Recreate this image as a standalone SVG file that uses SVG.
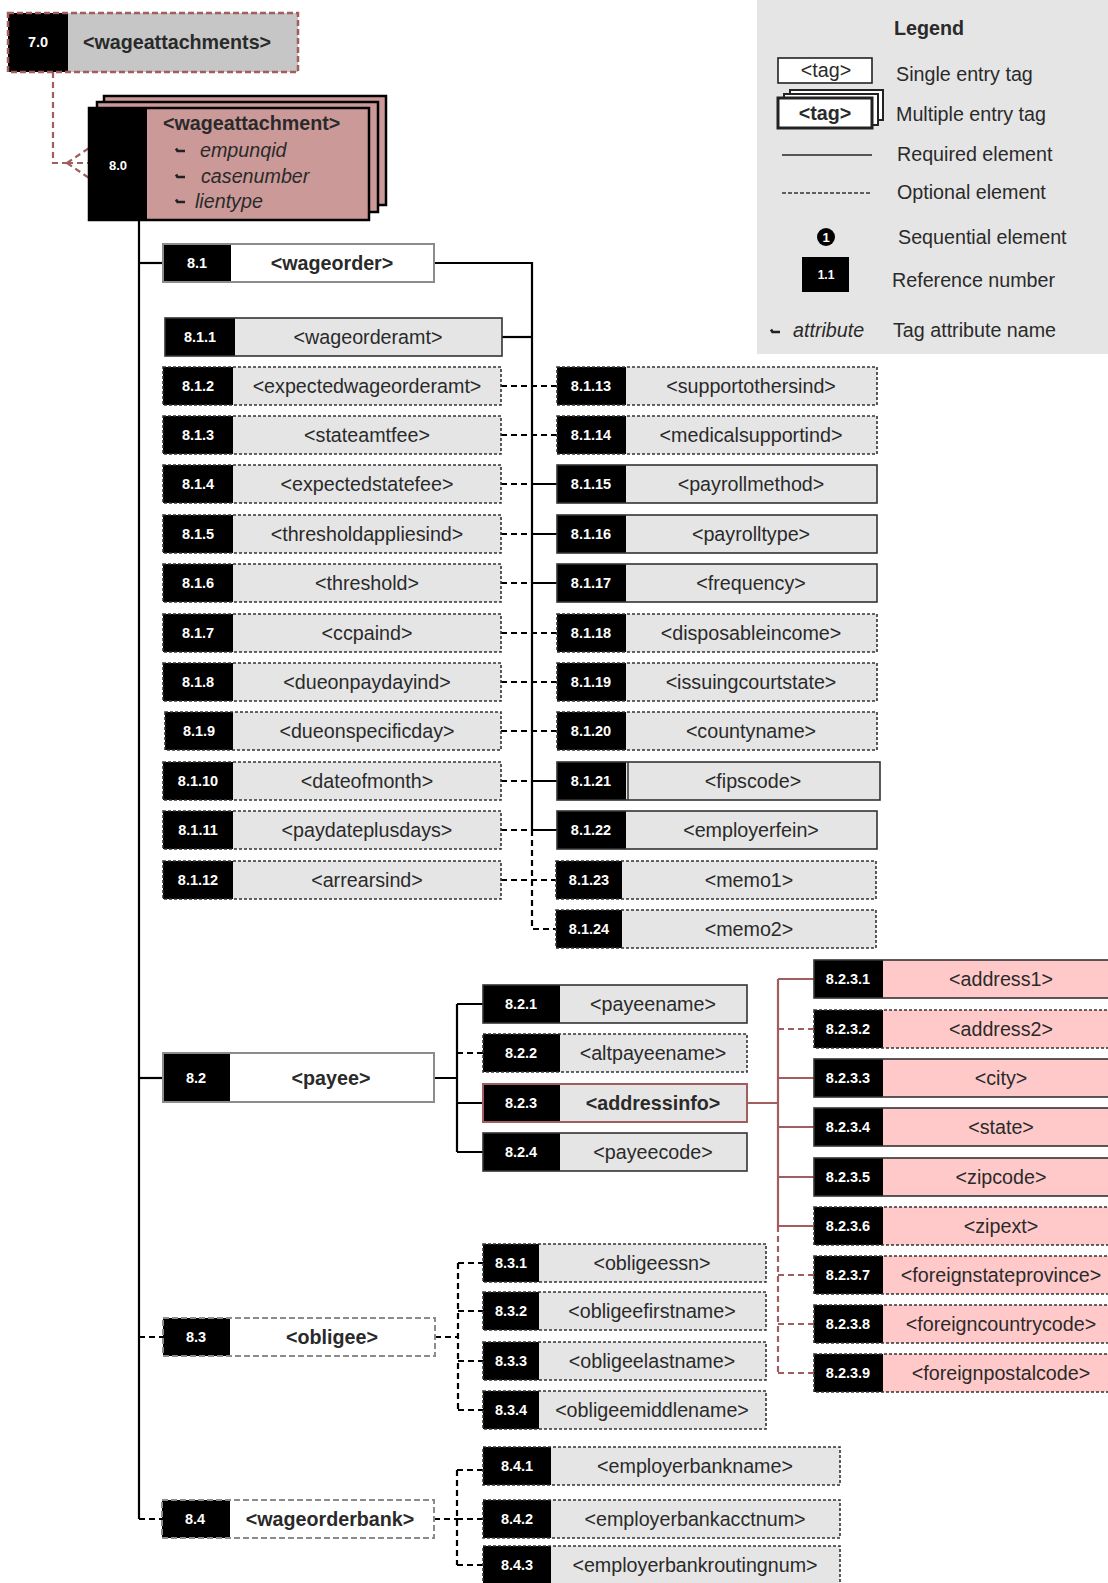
<svg xmlns="http://www.w3.org/2000/svg" xmlns:xlink="http://www.w3.org/1999/xlink" width="1108" height="1583" viewBox="0 0 1108 1583">
<style>
.lbl{font-family:"Liberation Sans",Arial,sans-serif;font-size:19.7px;fill:#2a2a2a;text-anchor:middle}
.lg{font-family:"Liberation Sans",Arial,sans-serif;font-size:19.7px;fill:#2a2a2a}
.b{font-weight:bold}
.it{font-style:italic}
.num{font-family:"Liberation Sans",Arial,sans-serif;font-size:14.5px;font-weight:bold;fill:#fff;text-anchor:middle}
.fl{fill:#e5e5e5}
.pk{fill:#ffc9c9}
.wh{fill:#fff}
.ref{fill:#000}
.bs{fill:none;stroke:#333;stroke-width:1.6}
.bd{fill:none;stroke:#333;stroke-width:1.6;stroke-dasharray:3 2}
.gs{fill:none;stroke:#8c8c8c;stroke-width:2}
.gd{fill:none;stroke:#8c8c8c;stroke-width:2;stroke-dasharray:6 3}
.c{fill:none;stroke:#000;stroke-width:2.2}
.cd{fill:none;stroke:#000;stroke-width:2.2;stroke-dasharray:6 4}
.rs{fill:none;stroke:#a25e5e;stroke-width:2.2}
.rd{fill:none;stroke:#a25e5e;stroke-width:2.2;stroke-dasharray:6 4}
.hk{fill:none;stroke:#222;stroke-width:2.6;stroke-linecap:butt}
</style>
<defs>
<path id="hook" class="hk" d="M0,-2.5 L1.5,0 L9,0"/>
</defs>

<!-- Legend -->
<g id="legend">
<rect x="757" y="-1" width="352" height="355" fill="#e5e5e5"/>
<text class="lg b" x="894" y="35">Legend</text>
<rect x="778" y="58" width="94" height="25" fill="#fff" stroke="#222" stroke-width="1.6"/>
<text class="lbl" x="826" y="77">&lt;tag&gt;</text>
<text class="lg" x="896" y="81">Single entry tag</text>
<rect x="790" y="90" width="93" height="30" fill="#fff" stroke="#222" stroke-width="2"/>
<rect x="784" y="94" width="94" height="31" fill="#fff" stroke="#222" stroke-width="2"/>
<rect x="778" y="98" width="94" height="30" fill="#fff" stroke="#222" stroke-width="3"/>
<text class="lbl b" x="825" y="120">&lt;tag&gt;</text>
<text class="lg" x="896" y="121">Multiple entry tag</text>
<line x1="782" y1="155" x2="872" y2="155" stroke="#555" stroke-width="2"/>
<text class="lg" x="897" y="161">Required element</text>
<line x1="782" y1="193" x2="872" y2="193" stroke="#333" stroke-width="1.5" stroke-dasharray="4 2"/>
<text class="lg" x="897" y="199">Optional element</text>
<circle cx="826" cy="237" r="9" fill="#000"/>
<text class="num" x="826" y="242" style="font-size:13px">1</text>
<text class="lg" x="898" y="244">Sequential element</text>
<rect x="802" y="257" width="47" height="35" fill="#000"/>
<text class="num" x="826" y="279" style="font-size:12px">1.1</text>
<text class="lg" x="892" y="287">Reference number</text>
<use xlink:href="#hook" href="#hook" transform="translate(771,332)"/>
<text class="lg it" x="793" y="337">attribute</text>
<text class="lg" x="893" y="337">Tag attribute name</text>
</g>

<!-- Connectors -->
<g id="connectors">
<path class="rd" d="M53,72 V163 H67 M67,163 L89,148 M67,163 L89,163 M67,163 L89,178"/>
<path class="c" d="M139,220 V1519"/>
<path class="c" d="M139,263 H163"/>
<path class="c" d="M139,1078 H163"/>
<path class="cd" d="M139,1337 H163"/>
<path class="cd" d="M139,1519 H162"/>
<!-- 8.1 -->
<path class="c" d="M434,263 H532 V830"/>
<path class="cd" d="M532,830 V929 H557"/>
<path class="c" d="M502,337 H532"/>
<path class="cd" d="M501,386 H557 M501,435 H557 M501,484 H532 M501,534 H532 M501,583 H532 M501,633 H557 M501,682 H557 M501,731 H557 M501,781 H532 M501,830 H532 M501,880 H557"/>
<path class="c" d="M532,484 H557 M532,534 H557 M532,583 H557 M532,781 H557 M532,830 H557"/>
<!-- 8.2 -->
<path class="c" d="M434,1078 H457 M457,1004 V1152 M457,1004 H483 M457,1103 H483 M457,1152 H483"/>
<path class="cd" d="M457,1053 H483"/>
<path class="rs" d="M747,1103 H778 M778,979 V1226 M778,979 H814 M778,1078 H814 M778,1127 H814 M778,1177 H814 M778,1226 H814"/>
<path class="rd" d="M778,1226 V1373 M778,1029 H814 M778,1275 H814 M778,1324 H814 M778,1373 H814"/>
<!-- 8.3 -->
<path class="cd" d="M435,1337 H458 M458,1263 V1410 M458,1263 H483 M458,1311 H483 M458,1361 H483 M458,1410 H483"/>
<!-- 8.4 -->
<path class="cd" d="M434,1519 H457 M457,1470 V1565 M457,1470 H483 M457,1519 H483 M457,1565 H483"/>
</g>

<!-- 7.0 -->
<g id="n7-0">
<rect x="8" y="13" width="290" height="59" fill="#c6c6c6"/>
<rect x="8" y="13" width="60" height="59" fill="#000"/>
<rect x="8" y="13" width="290" height="59" fill="none" stroke="#a25e5e" stroke-width="2.5" stroke-dasharray="6 3"/>
<text class="num" x="38" y="47">7.0</text>
<text class="lbl b" x="177" y="49">&lt;wageattachments&gt;</text>
</g>

<!-- 8.0 -->
<g id="n8-0">
<rect x="104" y="96" width="282" height="109" fill="#cc9999" stroke="#000" stroke-width="2.5"/>
<rect x="97" y="102" width="281" height="110" fill="#cc9999" stroke="#000" stroke-width="2.5"/>
<rect x="89" y="108" width="280" height="112" fill="#cc9999" stroke="#000" stroke-width="2.5"/>
<rect x="89" y="108" width="58" height="112" fill="#000"/>
<text class="num" x="118" y="170" style="font-size:13px">8.0</text>
<text class="lg b" x="163" y="130">&lt;wageattachment&gt;</text>
<use xlink:href="#hook" href="#hook" transform="translate(176,151)"/>
<text class="lg it" x="200" y="157">empunqid</text>
<use xlink:href="#hook" href="#hook" transform="translate(176,177)"/>
<text class="lg it" x="201" y="183">casenumber</text>
<use xlink:href="#hook" href="#hook" transform="translate(176,202)"/>
<text class="lg it" x="195" y="208">lientype</text>
</g>

<!-- 8.1 -->
<g id="n8-1">
<rect class="wh" x="163" y="244" width="271" height="38"/>
<rect class="ref" x="163" y="244" width="68" height="38"/>
<rect class="gs" x="163" y="244" width="271" height="38"/>
<text class="num" x="197" y="268">8.1</text>
<text class="lbl b" x="332" y="270">&lt;wageorder&gt;</text>
</g>

<g id="n8-1-1"><rect class="fl" x="165" y="318" width="337" height="38"/><rect class="ref" x="165" y="318" width="70" height="38"/><rect class="bs" x="165" y="318" width="337" height="38"/><text class="num" x="200" y="342">8.1.1</text><text class="lbl" x="368" y="344">&lt;wageorderamt&gt;</text></g>
<g id="n8-1-2"><rect class="fl" x="163" y="367" width="338" height="38"/><rect class="ref" x="163" y="367" width="70" height="38"/><rect class="bd" x="163" y="367" width="338" height="38"/><text class="num" x="198" y="391">8.1.2</text><text class="lbl" x="367" y="393">&lt;expectedwageorderamt&gt;</text></g>
<g id="n8-1-3"><rect class="fl" x="163" y="416" width="338" height="38"/><rect class="ref" x="163" y="416" width="70" height="38"/><rect class="bd" x="163" y="416" width="338" height="38"/><text class="num" x="198" y="440">8.1.3</text><text class="lbl" x="367" y="442">&lt;stateamtfee&gt;</text></g>
<g id="n8-1-4"><rect class="fl" x="163" y="465" width="338" height="38"/><rect class="ref" x="163" y="465" width="70" height="38"/><rect class="bd" x="163" y="465" width="338" height="38"/><text class="num" x="198" y="489">8.1.4</text><text class="lbl" x="367" y="491">&lt;expectedstatefee&gt;</text></g>
<g id="n8-1-5"><rect class="fl" x="163" y="515" width="338" height="38"/><rect class="ref" x="163" y="515" width="70" height="38"/><rect class="bd" x="163" y="515" width="338" height="38"/><text class="num" x="198" y="539">8.1.5</text><text class="lbl" x="367" y="541">&lt;thresholdappliesind&gt;</text></g>
<g id="n8-1-6"><rect class="fl" x="163" y="564" width="338" height="38"/><rect class="ref" x="163" y="564" width="70" height="38"/><rect class="bd" x="163" y="564" width="338" height="38"/><text class="num" x="198" y="588">8.1.6</text><text class="lbl" x="367" y="590">&lt;threshold&gt;</text></g>
<g id="n8-1-7"><rect class="fl" x="163" y="614" width="338" height="38"/><rect class="ref" x="163" y="614" width="70" height="38"/><rect class="bd" x="163" y="614" width="338" height="38"/><text class="num" x="198" y="638">8.1.7</text><text class="lbl" x="367" y="640">&lt;ccpaind&gt;</text></g>
<g id="n8-1-8"><rect class="fl" x="163" y="663" width="338" height="38"/><rect class="ref" x="163" y="663" width="70" height="38"/><rect class="bd" x="163" y="663" width="338" height="38"/><text class="num" x="198" y="687">8.1.8</text><text class="lbl" x="367" y="689">&lt;dueonpaydayind&gt;</text></g>
<g id="n8-1-9"><rect class="fl" x="165" y="712" width="336" height="38"/><rect class="ref" x="165" y="712" width="68" height="38"/><rect class="bd" x="165" y="712" width="336" height="38"/><text class="num" x="199" y="736">8.1.9</text><text class="lbl" x="367" y="738">&lt;dueonspecificday&gt;</text></g>
<g id="n8-1-10"><rect class="fl" x="163" y="762" width="338" height="38"/><rect class="ref" x="163" y="762" width="70" height="38"/><rect class="bd" x="163" y="762" width="338" height="38"/><text class="num" x="198" y="786">8.1.10</text><text class="lbl" x="367" y="788">&lt;dateofmonth&gt;</text></g>
<g id="n8-1-11"><rect class="fl" x="163" y="811" width="338" height="38"/><rect class="ref" x="163" y="811" width="70" height="38"/><rect class="bd" x="163" y="811" width="338" height="38"/><text class="num" x="198" y="835">8.1.11</text><text class="lbl" x="367" y="837">&lt;paydateplusdays&gt;</text></g>
<g id="n8-1-12"><rect class="fl" x="163" y="861" width="338" height="38"/><rect class="ref" x="163" y="861" width="70" height="38"/><rect class="bd" x="163" y="861" width="338" height="38"/><text class="num" x="198" y="885">8.1.12</text><text class="lbl" x="367" y="887">&lt;arrearsind&gt;</text></g>

<g id="n8-1-13"><rect class="fl" x="557" y="367" width="320" height="38"/><rect class="ref" x="557" y="367" width="69" height="38"/><rect class="bd" x="557" y="367" width="320" height="38"/><text class="num" x="591" y="391">8.1.13</text><text class="lbl" x="751" y="393">&lt;supportothersind&gt;</text></g>
<g id="n8-1-14"><rect class="fl" x="557" y="416" width="320" height="38"/><rect class="ref" x="557" y="416" width="69" height="38"/><rect class="bd" x="557" y="416" width="320" height="38"/><text class="num" x="591" y="440">8.1.14</text><text class="lbl" x="751" y="442">&lt;medicalsupportind&gt;</text></g>
<g id="n8-1-15"><rect class="fl" x="557" y="465" width="320" height="38"/><rect class="ref" x="557" y="465" width="69" height="38"/><rect class="bs" x="557" y="465" width="320" height="38"/><text class="num" x="591" y="489">8.1.15</text><text class="lbl" x="751" y="491">&lt;payrollmethod&gt;</text></g>
<g id="n8-1-16"><rect class="fl" x="557" y="515" width="320" height="38"/><rect class="ref" x="557" y="515" width="69" height="38"/><rect class="bs" x="557" y="515" width="320" height="38"/><text class="num" x="591" y="539">8.1.16</text><text class="lbl" x="751" y="541">&lt;payrolltype&gt;</text></g>
<g id="n8-1-17"><rect class="fl" x="557" y="564" width="320" height="38"/><rect class="ref" x="557" y="564" width="69" height="38"/><rect class="bs" x="557" y="564" width="320" height="38"/><text class="num" x="591" y="588">8.1.17</text><text class="lbl" x="751" y="590">&lt;frequency&gt;</text></g>
<g id="n8-1-18"><rect class="fl" x="557" y="614" width="320" height="38"/><rect class="ref" x="557" y="614" width="69" height="38"/><rect class="bd" x="557" y="614" width="320" height="38"/><text class="num" x="591" y="638">8.1.18</text><text class="lbl" x="751" y="640">&lt;disposableincome&gt;</text></g>
<g id="n8-1-19"><rect class="fl" x="557" y="663" width="320" height="38"/><rect class="ref" x="557" y="663" width="69" height="38"/><rect class="bd" x="557" y="663" width="320" height="38"/><text class="num" x="591" y="687">8.1.19</text><text class="lbl" x="751" y="689">&lt;issuingcourtstate&gt;</text></g>
<g id="n8-1-20"><rect class="fl" x="557" y="712" width="320" height="38"/><rect class="ref" x="557" y="712" width="69" height="38"/><rect class="bd" x="557" y="712" width="320" height="38"/><text class="num" x="591" y="736">8.1.20</text><text class="lbl" x="751" y="738">&lt;countyname&gt;</text></g>
<g id="n8-1-21"><rect class="fl" x="557" y="762" width="323" height="38"/><rect class="ref" x="557" y="762" width="69" height="38"/><rect class="bs" x="557" y="762" width="323" height="38"/><line x1="628" y1="762" x2="628" y2="800" stroke="#333" stroke-width="1.5"/><text class="num" x="591" y="786">8.1.21</text><text class="lbl" x="753" y="788">&lt;fipscode&gt;</text></g>
<g id="n8-1-22"><rect class="fl" x="557" y="811" width="320" height="38"/><rect class="ref" x="557" y="811" width="69" height="38"/><rect class="bs" x="557" y="811" width="320" height="38"/><text class="num" x="591" y="835">8.1.22</text><text class="lbl" x="751" y="837">&lt;employerfein&gt;</text></g>
<g id="n8-1-23"><rect class="fl" x="556" y="861" width="320" height="38"/><rect class="ref" x="556" y="861" width="66" height="38"/><rect class="bd" x="556" y="861" width="320" height="38"/><text class="num" x="589" y="885">8.1.23</text><text class="lbl" x="749" y="887">&lt;memo1&gt;</text></g>
<g id="n8-1-24"><rect class="fl" x="556" y="910" width="320" height="38"/><rect class="ref" x="556" y="910" width="66" height="38"/><rect class="bd" x="556" y="910" width="320" height="38"/><text class="num" x="589" y="934">8.1.24</text><text class="lbl" x="749" y="936">&lt;memo2&gt;</text></g>

<!-- 8.2 -->
<g id="n8-2">
<rect class="wh" x="163" y="1053" width="271" height="49"/>
<rect class="ref" x="163" y="1053" width="67" height="49"/>
<rect class="gs" x="163" y="1053" width="271" height="49"/>
<text class="num" x="196" y="1083">8.2</text>
<text class="lbl b" x="331" y="1085">&lt;payee&gt;</text>
</g>
<g id="n8-2-1"><rect class="fl" x="483" y="985" width="264" height="38"/><rect class="ref" x="483" y="985" width="77" height="38"/><rect class="bs" x="483" y="985" width="264" height="38"/><text class="num" x="521" y="1009">8.2.1</text><text class="lbl" x="653" y="1011">&lt;payeename&gt;</text></g>
<g id="n8-2-2"><rect class="fl" x="483" y="1034" width="264" height="38"/><rect class="ref" x="483" y="1034" width="77" height="38"/><rect class="bd" x="483" y="1034" width="264" height="38"/><text class="num" x="521" y="1058">8.2.2</text><text class="lbl" x="653" y="1060">&lt;altpayeename&gt;</text></g>
<g id="n8-2-3"><rect class="fl" x="483" y="1084" width="264" height="38"/><rect class="ref" x="483" y="1084" width="77" height="38"/><rect x="483" y="1084" width="264" height="38" fill="none" stroke="#a25e5e" stroke-width="2"/><text class="num" x="521" y="1108">8.2.3</text><text class="lbl b" x="653" y="1110">&lt;addressinfo&gt;</text></g>
<g id="n8-2-4"><rect class="fl" x="483" y="1133" width="264" height="38"/><rect class="ref" x="483" y="1133" width="77" height="38"/><rect class="bs" x="483" y="1133" width="264" height="38"/><text class="num" x="521" y="1157">8.2.4</text><text class="lbl" x="653" y="1159">&lt;payeecode&gt;</text></g>

<g id="n8-2-3-1"><rect class="pk" x="814" y="960" width="306" height="38"/><rect class="ref" x="814" y="960" width="69" height="38"/><rect class="bs" x="814" y="960" width="306" height="38"/><text class="num" x="848" y="984">8.2.3.1</text><text class="lbl" x="1001" y="986">&lt;address1&gt;</text></g>
<g id="n8-2-3-2"><rect class="pk" x="814" y="1010" width="306" height="38"/><rect class="ref" x="814" y="1010" width="69" height="38"/><rect class="bd" x="814" y="1010" width="306" height="38"/><text class="num" x="848" y="1034">8.2.3.2</text><text class="lbl" x="1001" y="1036">&lt;address2&gt;</text></g>
<g id="n8-2-3-3"><rect class="pk" x="814" y="1059" width="306" height="38"/><rect class="ref" x="814" y="1059" width="69" height="38"/><rect class="bs" x="814" y="1059" width="306" height="38"/><text class="num" x="848" y="1083">8.2.3.3</text><text class="lbl" x="1001" y="1085">&lt;city&gt;</text></g>
<g id="n8-2-3-4"><rect class="pk" x="814" y="1108" width="306" height="38"/><rect class="ref" x="814" y="1108" width="69" height="38"/><rect class="bs" x="814" y="1108" width="306" height="38"/><text class="num" x="848" y="1132">8.2.3.4</text><text class="lbl" x="1001" y="1134">&lt;state&gt;</text></g>
<g id="n8-2-3-5"><rect class="pk" x="814" y="1158" width="306" height="38"/><rect class="ref" x="814" y="1158" width="69" height="38"/><rect class="bs" x="814" y="1158" width="306" height="38"/><text class="num" x="848" y="1182">8.2.3.5</text><text class="lbl" x="1001" y="1184">&lt;zipcode&gt;</text></g>
<g id="n8-2-3-6"><rect class="pk" x="814" y="1207" width="306" height="38"/><rect class="ref" x="814" y="1207" width="69" height="38"/><rect class="bd" x="814" y="1207" width="306" height="38"/><text class="num" x="848" y="1231">8.2.3.6</text><text class="lbl" x="1001" y="1233">&lt;zipext&gt;</text></g>
<g id="n8-2-3-7"><rect class="pk" x="814" y="1256" width="306" height="38"/><rect class="ref" x="814" y="1256" width="69" height="38"/><rect class="bd" x="814" y="1256" width="306" height="38"/><text class="num" x="848" y="1280">8.2.3.7</text><text class="lbl" x="1001" y="1282">&lt;foreignstateprovince&gt;</text></g>
<g id="n8-2-3-8"><rect class="pk" x="814" y="1305" width="306" height="38"/><rect class="ref" x="814" y="1305" width="69" height="38"/><rect class="bd" x="814" y="1305" width="306" height="38"/><text class="num" x="848" y="1329">8.2.3.8</text><text class="lbl" x="1001" y="1331">&lt;foreigncountrycode&gt;</text></g>
<g id="n8-2-3-9"><rect class="pk" x="814" y="1354" width="306" height="38"/><rect class="ref" x="814" y="1354" width="69" height="38"/><rect class="bd" x="814" y="1354" width="306" height="38"/><text class="num" x="848" y="1378">8.2.3.9</text><text class="lbl" x="1001" y="1380">&lt;foreignpostalcode&gt;</text></g>

<!-- 8.3 -->
<g id="n8-3">
<rect class="wh" x="163" y="1318" width="272" height="38"/>
<rect class="ref" x="163" y="1318" width="67" height="38"/>
<rect class="gd" x="163" y="1318" width="272" height="38"/>
<text class="num" x="196" y="1342">8.3</text>
<text class="lbl b" x="332" y="1344">&lt;obligee&gt;</text>
</g>
<g id="n8-3-1"><rect class="fl" x="483" y="1244" width="283" height="38"/><rect class="ref" x="483" y="1244" width="56" height="38"/><rect class="bd" x="483" y="1244" width="283" height="38"/><text class="num" x="511" y="1268">8.3.1</text><text class="lbl" x="652" y="1270">&lt;obligeessn&gt;</text></g>
<g id="n8-3-2"><rect class="fl" x="483" y="1292" width="283" height="38"/><rect class="ref" x="483" y="1292" width="56" height="38"/><rect class="bd" x="483" y="1292" width="283" height="38"/><text class="num" x="511" y="1316">8.3.2</text><text class="lbl" x="652" y="1318">&lt;obligeefirstname&gt;</text></g>
<g id="n8-3-3"><rect class="fl" x="483" y="1342" width="283" height="38"/><rect class="ref" x="483" y="1342" width="56" height="38"/><rect class="bd" x="483" y="1342" width="283" height="38"/><text class="num" x="511" y="1366">8.3.3</text><text class="lbl" x="652" y="1368">&lt;obligeelastname&gt;</text></g>
<g id="n8-3-4"><rect class="fl" x="483" y="1391" width="283" height="38"/><rect class="ref" x="483" y="1391" width="56" height="38"/><rect class="bd" x="483" y="1391" width="283" height="38"/><text class="num" x="511" y="1415">8.3.4</text><text class="lbl" x="652" y="1417">&lt;obligeemiddlename&gt;</text></g>

<!-- 8.4 -->
<g id="n8-4">
<rect class="wh" x="162" y="1500" width="272" height="38"/>
<rect class="ref" x="162" y="1500" width="68" height="38"/>
<rect class="gd" x="162" y="1500" width="272" height="38"/>
<text class="num" x="195" y="1524">8.4</text>
<text class="lbl b" x="330" y="1526">&lt;wageorderbank&gt;</text>
</g>
<g id="n8-4-1"><rect class="fl" x="483" y="1447" width="357" height="38"/><rect class="ref" x="483" y="1447" width="68" height="38"/><rect class="bd" x="483" y="1447" width="357" height="38"/><text class="num" x="517" y="1471">8.4.1</text><text class="lbl" x="695" y="1473">&lt;employerbankname&gt;</text></g>
<g id="n8-4-2"><rect class="fl" x="483" y="1500" width="357" height="38"/><rect class="ref" x="483" y="1500" width="68" height="38"/><rect class="bd" x="483" y="1500" width="357" height="38"/><text class="num" x="517" y="1524">8.4.2</text><text class="lbl" x="695" y="1526">&lt;employerbankacctnum&gt;</text></g>
<g id="n8-4-3"><rect class="fl" x="483" y="1546" width="357" height="38"/><rect class="ref" x="483" y="1546" width="68" height="38"/><rect class="bd" x="483" y="1546" width="357" height="38"/><text class="num" x="517" y="1570">8.4.3</text><text class="lbl" x="695" y="1572">&lt;employerbankroutingnum&gt;</text></g>
</svg>
